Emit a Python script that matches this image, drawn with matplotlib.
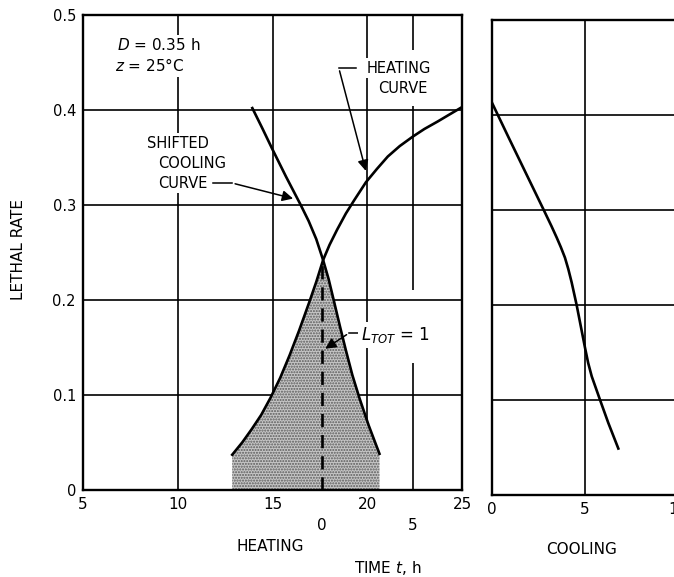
import numpy as np
import matplotlib.pyplot as plt

# heating curve, read on the heating time scale (h)
heat_t = [12.87, 13.4, 13.9, 14.4, 14.89, 15.4, 15.9, 16.4, 16.92, 17.3, 17.66, 18.0,
          18.4, 18.86, 19.3, 19.92, 20.5, 21.07, 21.7, 22.39, 23.0, 23.71, 24.3, 24.98]
heat_L = [0.037, 0.050, 0.064, 0.079, 0.097, 0.118, 0.142, 0.168, 0.197, 0.219, 0.242, 0.258,
          0.274, 0.291, 0.305, 0.324, 0.338, 0.351, 0.362, 0.372, 0.380, 0.388, 0.395, 0.403]

# cooling curve shifted onto the heating time scale
shift_t = [13.93, 14.45, 14.98, 15.7, 16.48, 16.9, 17.3, 17.66, 17.95, 18.24,
           18.55, 18.86, 19.2, 19.57, 20.06, 20.63]
shift_L = [0.402, 0.381, 0.359, 0.330, 0.300, 0.283, 0.264, 0.242, 0.222, 0.198,
           0.172, 0.147, 0.121, 0.097, 0.068, 0.038]

# cooling curve on its own time scale
cool_t = [0.0, 0.88, 1.77, 2.76, 3.2, 3.48, 3.7, 3.92, 4.1, 4.28, 4.55, 4.78, 5.0,
          5.17, 5.36, 5.81, 6.25, 6.79]
cool_L = [0.413, 0.377, 0.341, 0.301, 0.283, 0.271, 0.261, 0.250, 0.238, 0.224, 0.200, 0.177, 0.155,
          0.139, 0.125, 0.100, 0.076, 0.049]

heat_ticks = [5, 10, 15, 20, 25]
heat_labels = ['5', '10', '15', '20', '25']
cool_ticks = [0, 5, 10]
cool_labels = ['0', '5', '10']
rate_ticks = [0, 0.1, 0.2, 0.3, 0.4, 0.5]
rate_labels = ['0', '0.1', '0.2', '0.3', '0.4', '0.5']
# second scale under the heating axis (shifted cooling time)
shift_ticks = [17.6, 22.4]
shift_labels = ['0', '5']
peak_t = 17.66
peak_L = 0.242

plt.rcParams['font.family'] = 'DejaVu Sans'
fig = plt.figure(figsize=(6.74, 5.77), dpi=100)
ax1 = fig.add_axes([0.123, 0.151, 0.563, 0.823])
ax2 = fig.add_axes([0.730, 0.142, 0.276, 0.823])

box = dict(facecolor='white', edgecolor='none', pad=2)

# ---- heating panel ----
ax1.set_xlim(5, 25)
ax1.set_ylim(0, 0.5)
ax1.set_xticks(heat_ticks)
ax1.set_xticklabels(heat_labels, fontsize=11)
ax1.set_yticks(rate_ticks)
ax1.set_yticklabels(rate_labels, fontsize=10.5)
ax1.tick_params(length=0, pad=5)
ax1.grid(True, color='k', lw=1.2)
ax1.set_axisbelow(True)
for s in ax1.spines.values():
    s.set_linewidth(1.7)

# extra grid line at 5 h of the shifted scale, broken by the labels
gaps_lo = [0, 0.21, 0.463]
gaps_hi = [0.134, 0.404, 0.5]
ax1.vlines([shift_ticks[1]] * 3, gaps_lo, gaps_hi, color='k', lw=1.2, zorder=1)
for x, lab in zip(shift_ticks, shift_labels):
    ax1.text(x, -0.037, lab, ha='center', va='center', fontsize=11)

# total lethality area: under the lower of the two curves
fill_t = [t for t in heat_t if t <= peak_t] + [t for t in shift_t if t > peak_t]
fill_L = [l for t, l in zip(heat_t, heat_L) if t <= peak_t] + [l for t, l in zip(shift_t, shift_L) if t > peak_t]
ax1.fill(fill_t + [fill_t[-1], fill_t[0]], fill_L + [0, 0], facecolor='#c6c6c6',
         hatch='......', edgecolor='#5a5a5a', lw=0, zorder=1.5)

ax1.plot(heat_t, heat_L, color='k', lw=1.9, zorder=3, solid_joinstyle='round')
ax1.plot(shift_t, shift_L, color='k', lw=1.9, zorder=3, solid_joinstyle='round')
ax1.vlines(shift_ticks[0], 0, peak_L, color='k', lw=1.9, linestyles=(0, (5, 3)), zorder=3)

ax1.text(6.8, 0.468, r'$D$ = 0.35 h', fontsize=11, va='center', bbox=box)
ax1.text(6.7, 0.447, r'$z$ = 25°C', fontsize=11, va='center', bbox=box)

ax1.text(10.03, 0.365, 'SHIFTED', fontsize=10.5, ha='center', va='center', bbox=box)
ax1.text(10.77, 0.344, 'COOLING', fontsize=10.5, ha='center', va='center', bbox=box)
ax1.text(10.24, 0.323, 'CURVE', fontsize=10.5, ha='center', va='center', bbox=box)
ax1.plot([11.88, 12.88], [0.323, 0.323], color='k', lw=1.1)
ax1.annotate('', xy=(16.22, 0.306), xytext=(12.88, 0.323),
             arrowprops=dict(arrowstyle='-|>', color='k', lw=1.1, mutation_scale=16))

ax1.text(21.64, 0.444, 'HEATING', fontsize=10.5, ha='center', va='center', bbox=box)
ax1.text(21.85, 0.423, 'CURVE', fontsize=10.5, ha='center', va='center', bbox=box)
ax1.plot([18.49, 19.39], [0.444, 0.444], color='k', lw=1.1)
ax1.annotate('', xy=(19.95, 0.333), xytext=(18.49, 0.444),
             arrowprops=dict(arrowstyle='-|>', color='k', lw=1.1, mutation_scale=16))

ax1.text(19.66, 0.163, r'$L_{TOT}$ = 1', fontsize=12, va='center', bbox=box)
ax1.plot([19.02, 19.6], [0.165, 0.165], color='k', lw=1.1)
ax1.annotate('', xy=(17.65, 0.147), xytext=(19.02, 0.165),
             arrowprops=dict(arrowstyle='-|>', color='k', lw=1.1, mutation_scale=16), zorder=4)

# ---- cooling panel ----
ax2.set_xlim(0, 10)
ax2.set_ylim(0, 0.5)
ax2.set_xticks(cool_ticks)
ax2.set_xticklabels(cool_labels, fontsize=11)
ax2.set_yticks(rate_ticks)
ax2.set_yticklabels([])
ax2.tick_params(length=0, pad=5)
ax2.grid(True, color='k', lw=1.2)
for s in ax2.spines.values():
    s.set_linewidth(1.7)
ax2.plot(cool_t, cool_L, color='k', lw=1.9, solid_joinstyle='round')

fig.text(0.027, 0.567, 'LETHAL RATE', rotation=90, ha='center', va='center', fontsize=11)
fig.text(0.4006, 0.052, 'HEATING', ha='center', va='center', fontsize=11)
fig.text(0.8635, 0.047, 'COOLING', ha='center', va='center', fontsize=11)
fig.text(0.5757, 0.016, r'TIME $t$, h', ha='center', va='center', fontsize=11)

fig.savefig('out.png', dpi=100)
